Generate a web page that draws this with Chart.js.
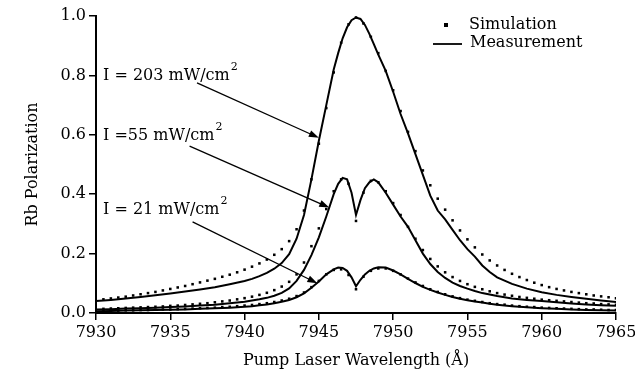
<!DOCTYPE html>
<html>
<head>
<meta charset="utf-8">
<script src="https://cdn.jsdelivr.net/npm/chart.js@4.4.1/dist/chart.umd.min.js"></script>
<style>
  html, body { margin: 0; padding: 0; background: #fff; }
  #wrap { width: 635px; height: 381px; }
</style>
</head>
<body>
<div id="wrap"><canvas id="polChart" width="635" height="381"></canvas></div>
<script>
// measured curves (solid lines)
const measX = [
  7930, 7931, 7932, 7933, 7934, 7935, 7936, 7937, 7938, 7939, 7940,
  7940.5, 7941, 7941.5, 7942, 7942.5, 7943, 7943.5, 7944, 7944.5, 7945, 7945.5, 7946,
  7946.3, 7946.6, 7946.9, 7947.2, 7947.5, 7947.8, 7948.1, 7948.4, 7948.7, 7949,
  7949.5, 7950, 7950.5, 7951, 7951.5, 7952, 7952.5, 7953, 7953.5, 7954, 7954.5,
  7955, 7955.5, 7956, 7956.5, 7957, 7958, 7959, 7960, 7961, 7962, 7963, 7964, 7965
];
const meas203 = [
  0.040, 0.044, 0.049, 0.054, 0.060, 0.066, 0.072, 0.079, 0.087, 0.097, 0.108,
  0.115, 0.124, 0.135, 0.149, 0.168, 0.198, 0.250, 0.330, 0.450, 0.580, 0.700, 0.820,
  0.875, 0.925, 0.962, 0.986, 0.995, 0.990, 0.970, 0.940, 0.905, 0.870,
  0.815, 0.745, 0.670, 0.605, 0.535, 0.465, 0.395, 0.345, 0.315, 0.280, 0.245,
  0.215, 0.190, 0.160, 0.138, 0.120, 0.098, 0.082, 0.070, 0.061, 0.054, 0.048, 0.042, 0.037
];
const meas55 = [
  0.012, 0.013, 0.015, 0.016, 0.018, 0.020, 0.022, 0.025, 0.028, 0.033, 0.038,
  0.042, 0.046, 0.051, 0.058, 0.068, 0.083, 0.108, 0.145, 0.195, 0.255, 0.325, 0.400,
  0.435, 0.455, 0.450, 0.405, 0.330, 0.380, 0.420, 0.440, 0.450, 0.440,
  0.405, 0.365, 0.325, 0.290, 0.245, 0.200, 0.165, 0.138, 0.118, 0.102, 0.091,
  0.082, 0.074, 0.067, 0.062, 0.057, 0.049, 0.044, 0.040, 0.036, 0.032, 0.029, 0.026, 0.024
];
const meas21 = [
  0.006, 0.007, 0.008, 0.009, 0.010, 0.011, 0.012, 0.014, 0.016, 0.018, 0.021,
  0.023, 0.026, 0.029, 0.033, 0.038, 0.044, 0.053, 0.066, 0.085, 0.106, 0.130, 0.147,
  0.153, 0.152, 0.142, 0.120, 0.090, 0.112, 0.130, 0.142, 0.150, 0.154,
  0.153, 0.143, 0.130, 0.115, 0.101, 0.088, 0.078, 0.069, 0.061, 0.054, 0.048,
  0.043, 0.039, 0.035, 0.031, 0.028, 0.023, 0.019, 0.016, 0.014, 0.012, 0.010, 0.009, 0.008
];

// simulated curves (dots)
const simX = [
  7930.5, 7931, 7931.5, 7932, 7932.5, 7933, 7933.5, 7934, 7934.5, 7935,
  7935.5, 7936, 7936.5, 7937, 7937.5, 7938, 7938.5, 7939, 7939.5, 7940,
  7940.5, 7941, 7941.5, 7942, 7942.5, 7943, 7943.5, 7944, 7944.5, 7945,
  7945.5, 7946, 7946.5, 7947, 7947.5, 7948, 7948.5, 7949, 7949.5, 7950,
  7950.5, 7951, 7951.5, 7952, 7952.5, 7953, 7953.5, 7954, 7954.5, 7955,
  7955.5, 7956, 7956.5, 7957, 7957.5, 7958, 7958.5, 7959, 7959.5, 7960,
  7960.5, 7961, 7961.5, 7962, 7962.5, 7963, 7963.5, 7964, 7964.5, 7965
];
const sim203 = [
  0.046, 0.049, 0.052, 0.055, 0.059, 0.063, 0.067, 0.071, 0.076, 0.081,
  0.086, 0.091, 0.097, 0.103, 0.109, 0.115, 0.122, 0.129, 0.137, 0.146,
  0.156, 0.167, 0.180, 0.196, 0.215, 0.242, 0.282, 0.345, 0.450, 0.570,
  0.690, 0.810, 0.910, 0.972, 0.995, 0.975, 0.930, 0.875, 0.815, 0.750,
  0.680, 0.610, 0.545, 0.480, 0.430, 0.385, 0.348, 0.312, 0.278, 0.248,
  0.221, 0.197, 0.177, 0.160, 0.145, 0.132, 0.121, 0.111, 0.102, 0.094,
  0.087, 0.081, 0.076, 0.071, 0.067, 0.063, 0.059, 0.056, 0.053, 0.050
];
const sim55 = [
  0.014, 0.015, 0.016, 0.017, 0.018, 0.019, 0.020, 0.021, 0.022, 0.024,
  0.025, 0.027, 0.029, 0.031, 0.033, 0.036, 0.039, 0.042, 0.046, 0.050,
  0.055, 0.061, 0.068, 0.077, 0.089, 0.105, 0.130, 0.170, 0.225, 0.285,
  0.350, 0.410, 0.450, 0.435, 0.310, 0.405, 0.445, 0.440, 0.410, 0.370,
  0.330, 0.290, 0.250, 0.212, 0.182, 0.157, 0.137, 0.121, 0.108, 0.097,
  0.088, 0.080, 0.073, 0.067, 0.062, 0.058, 0.054, 0.051, 0.048, 0.045,
  0.043, 0.041, 0.039, 0.037, 0.035, 0.033, 0.032, 0.030, 0.029, 0.028
];
const sim21 = [
  0.007, 0.008, 0.008, 0.009, 0.009, 0.010, 0.010, 0.011, 0.012, 0.012,
  0.013, 0.014, 0.015, 0.016, 0.017, 0.018, 0.020, 0.021, 0.023, 0.025,
  0.027, 0.030, 0.033, 0.037, 0.042, 0.048, 0.057, 0.069, 0.087, 0.108,
  0.130, 0.145, 0.147, 0.128, 0.080, 0.122, 0.142, 0.150, 0.150, 0.142,
  0.130, 0.116, 0.103, 0.091, 0.080, 0.071, 0.063, 0.056, 0.050, 0.045,
  0.041, 0.037, 0.033, 0.030, 0.028, 0.025, 0.023, 0.021, 0.020, 0.018,
  0.017, 0.016, 0.015, 0.014, 0.013, 0.012, 0.012, 0.011, 0.010, 0.010
];

// curve labels: text, superscript, text position, arrow start/end in data units
const curveLabels = [
  { text: "I = 203 mW/cm", x: 103, y: 76, from: [7936.8, 0.775], to: [7945.0, 0.59] },
  { text: "I =55 mW/cm",   x: 103, y: 136, from: [7936.3, 0.562], to: [7945.7, 0.355] },
  { text: "I = 21 mW/cm",  x: 103, y: 210, from: [7936.5, 0.307], to: [7944.9, 0.10] },
];

const FONT = "DejaVu Serif";

function pts(xs, ys) {
  return xs.map((x, i) => ({ x: x, y: ys[i] }));
}

function lineSet(ys) {
  return {
    data: pts(measX, ys),
    showLine: true,
    borderColor: "#000",
    borderWidth: 2,
    pointRadius: 0,
    tension: 0,
  };
}

function dotSet(ys) {
  return {
    data: pts(simX, ys),
    showLine: false,
    pointStyle: "rect",
    pointRadius: 1.8,
    backgroundColor: "#000",
    borderWidth: 0,
  };
}

const overlay = {
  id: "overlay",
  afterDraw(chart) {
    const c = chart.ctx;
    const xs = chart.scales.x;
    const ys = chart.scales.y;
    c.save();
    c.fillStyle = "#000";
    c.strokeStyle = "#000";
    c.textBaseline = "middle";

    curveLabels.forEach((l) => {
      c.font = "16px '" + FONT + "'";
      c.textAlign = "left";
      c.fillText(l.text, l.x, l.y);
      const w = c.measureText(l.text).width;
      c.font = "11px '" + FONT + "'";
      c.fillText("2", l.x + w + 1, l.y - 9);

      const x0 = xs.getPixelForValue(l.from[0]);
      const y0 = ys.getPixelForValue(l.from[1]);
      const x1 = xs.getPixelForValue(l.to[0]);
      const y1 = ys.getPixelForValue(l.to[1]);
      const a = Math.atan2(y1 - y0, x1 - x0);
      c.lineWidth = 1.3;
      c.beginPath();
      c.moveTo(x0, y0);
      c.lineTo(x1 - 8 * Math.cos(a), y1 - 8 * Math.sin(a));
      c.stroke();
      c.beginPath();
      c.moveTo(x1, y1);
      c.lineTo(x1 - 10 * Math.cos(a) + 3.5 * Math.sin(a), y1 - 10 * Math.sin(a) - 3.5 * Math.cos(a));
      c.lineTo(x1 - 10 * Math.cos(a) - 3.5 * Math.sin(a), y1 - 10 * Math.sin(a) + 3.5 * Math.cos(a));
      c.closePath();
      c.fill();
    });

    // legend
    c.font = "16px '" + FONT + "'";
    c.textAlign = "left";
    c.fillRect(444, 23, 4, 4);
    c.fillText("Simulation", 469, 25);
    c.lineWidth = 1.8;
    c.beginPath();
    c.moveTo(433, 44);
    c.lineTo(462, 44);
    c.stroke();
    c.fillText("Measurement", 470, 43);
    c.restore();
  },
};

new Chart(document.getElementById("polChart"), {
  type: "scatter",
  data: {
    datasets: [
      dotSet(sim203), dotSet(sim55), dotSet(sim21),
      lineSet(meas203), lineSet(meas55), lineSet(meas21),
    ],
  },
  options: {
    responsive: false,
    animation: false,
    layout: { padding: { left: 0, right: 19, top: 16, bottom: 0 } },
    plugins: {
      legend: { display: false },
      tooltip: { enabled: false },
    },
    scales: {
      x: {
        type: "linear",
        min: 7930,
        max: 7965,
        afterFit: (s) => {
          s.height = 68;
          s.paddingLeft = 0;
          s.paddingRight = 0;
        },
        ticks: {
          stepSize: 5,
          color: "#000",
          padding: 3,
          font: { family: FONT, size: 16 },
          callback: (v) => String(v),
        },
        grid: { drawOnChartArea: false, drawTicks: true, tickLength: 7, color: "#000", lineWidth: 1.5 },
        border: { display: true, color: "#000", width: 2 },
        title: {
          display: true,
          text: "Pump Laser Wavelength (Å)",
          color: "#000",
          font: { family: FONT, size: 16 },
          padding: { top: 6, bottom: 11 },
        },
      },
      y: {
        min: 0,
        max: 1.0,
        afterFit: (s) => { s.width = 96; },
        ticks: {
          stepSize: 0.2,
          color: "#000",
          padding: 3,
          font: { family: FONT, size: 16 },
          callback: (v) => v.toFixed(1),
        },
        grid: { drawOnChartArea: false, drawTicks: true, tickLength: 7, color: "#000", lineWidth: 1.5 },
        border: { display: true, color: "#000", width: 2 },
        title: {
          display: true,
          text: "Rb Polarization",
          color: "#000",
          font: { family: FONT, size: 16 },
          padding: { top: 23, bottom: 4 },
        },
      },
    },
  },
  plugins: [overlay],
});
</script>
</body>
</html>
